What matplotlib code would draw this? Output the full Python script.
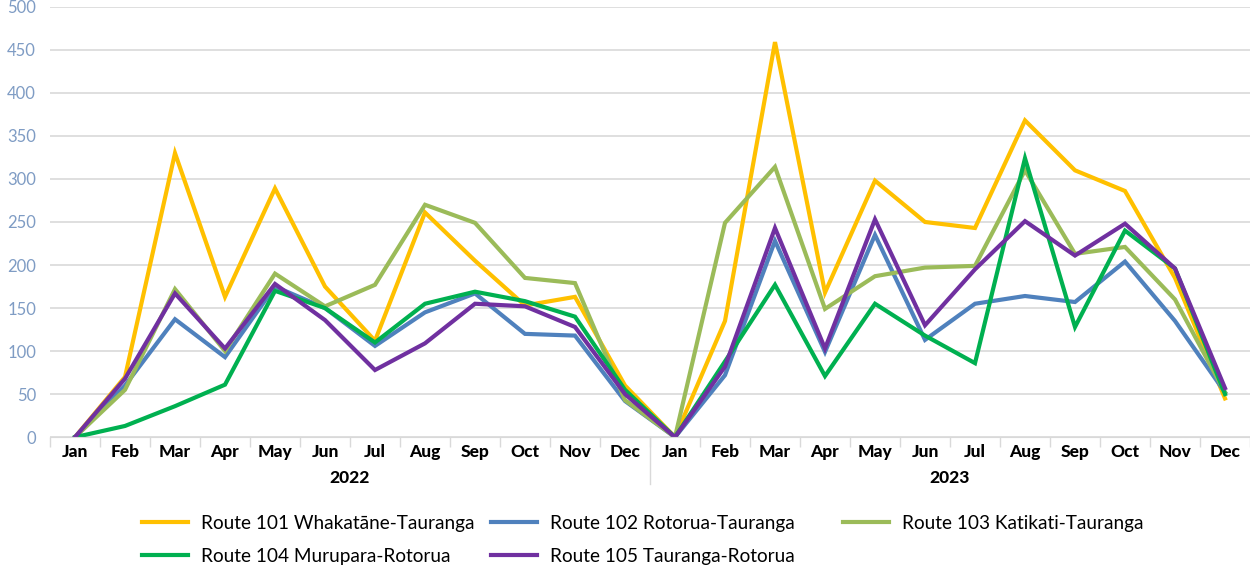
import matplotlib.pyplot as plt
import numpy as np

months = ['Jan', 'Feb', 'Mar', 'Apr', 'May', 'Jun', 'Jul', 'Aug', 'Sep', 'Oct', 'Nov', 'Dec']
years = ['2022', '2023']

route_101 = [0, 70, 330, 163, 289, 175, 112, 261, 205, 153, 163, 60,
             0, 135, 459, 168, 298, 250, 243, 368, 310, 286, 185, 45]
route_102 = [0, 60, 137, 93, 175, 150, 106, 145, 167, 120, 118, 42,
             0, 72, 228, 99, 235, 113, 155, 164, 157, 204, 135, 52]
route_103 = [0, 55, 172, 100, 190, 152, 177, 270, 249, 185, 179, 43,
             0, 249, 314, 149, 187, 197, 199, 310, 213, 221, 160, 52]
route_104 = [0, 13, 36, 61, 170, 150, 110, 155, 169, 158, 140, 55,
             0, 88, 177, 71, 155, 118, 86, 324, 128, 240, 196, 50]
route_105 = [0, 68, 167, 103, 178, 136, 78, 109, 155, 152, 128, 50,
             0, 82, 243, 103, 253, 130, 195, 251, 211, 248, 196, 57]

names = ['Route 101 Whakatāne-Tauranga', 'Route 102 Rotorua-Tauranga',
         'Route 103 Katikati-Tauranga', 'Route 104 Murupara-Rotorua',
         'Route 105 Tauranga-Rotorua']
series = [route_101, route_102, route_103, route_104, route_105]
colors = ['#FFC000', '#4F81BD', '#9BBB59', '#00B050', '#7030A0']

plt.rcParams['font.family'] = ['Lato', 'DejaVu Sans']

fig = plt.figure(figsize=(12.5, 5.67), dpi=100)
ax = fig.add_axes([0.04, 0.229, 0.96, 0.759])

x = np.arange(len(route_101))
lines = []
for s, name, c in zip(series, names, colors):
    ln, = ax.plot(x, s, color=c, lw=3, label=name, solid_joinstyle='miter')
    lines.append(ln)

ax.set_xlim(-0.5, len(x) - 0.5)
ax.set_ylim(0, 500)
ax.set_yticks(np.arange(0, 501, 50))
ax.tick_params(axis='y', length=0, labelcolor='#7F9CC4', labelsize=12, pad=10)
ax.grid(axis='y', color='#D9D9D9', lw=1.2)
ax.set_axisbelow(True)

ax.set_xticks(x)
ax.set_xticklabels(months * 2, fontweight='black', fontsize=12.5)
ax.tick_params(axis='x', length=0, pad=5)
ax.set_xticks(np.arange(-0.5, len(x), 1), minor=True)
ax.tick_params(axis='x', which='minor', length=7, color='#D9D9D9', width=1)

for sp in ['top', 'right', 'left']:
    ax.spines[sp].set_visible(False)
ax.spines['bottom'].set_color('#D9D9D9')

# year labels and separator
for i, yr in enumerate(years):
    ax.text(i * 12 + 5.5, -0.095, yr, transform=ax.get_xaxis_transform(),
            ha='center', va='center', fontweight='black', fontsize=12.5)
ax.plot([11.5, 11.5], [0, -0.11], transform=ax.get_xaxis_transform(),
        color='#D9D9D9', lw=1, clip_on=False)

# legend: three fixed-width columns, filled row by row
cols = [[0, 3], [1, 4], [2]]
col_x = [142, 491, 843]
for idx, cx in zip(cols, col_x):
    fig.legend([lines[i] for i in idx], [names[i] for i in idx],
               loc='upper left', bbox_to_anchor=(cx / 1250, 0.092),
               frameon=False, fontsize=13.7, handlelength=2.4,
               handletextpad=0.7, labelspacing=0.85, borderpad=0,
               borderaxespad=0)

fig.savefig('out.png', dpi=100)
